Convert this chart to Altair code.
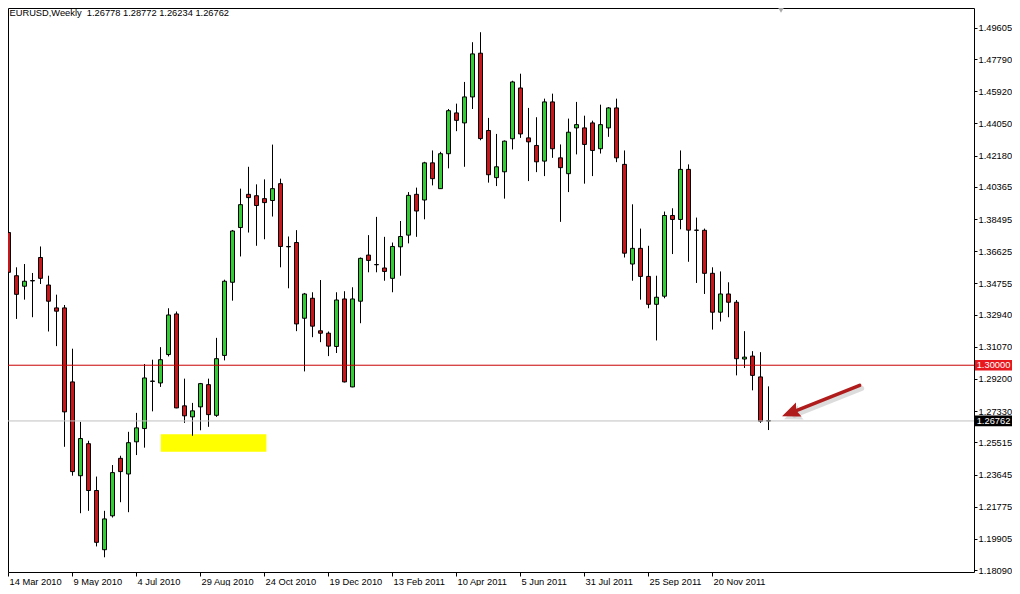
import json
import altair as alt
import pandas as pd

# ---------------- data ----------------
date_labels = ["14 Mar 2010", "9 May 2010", "4 Jul 2010", "29 Aug 2010", "24 Oct 2010",
               "19 Dec 2010", "13 Feb 2011", "10 Apr 2011", "5 Jun 2011", "31 Jul 2011",
               "25 Sep 2011", "20 Nov 2011"]
label_step = 8  # one label every 8 weekly bars

price_ticks = [1.49605, 1.47790, 1.45920, 1.44050, 1.42180, 1.40365, 1.38495, 1.36625,
               1.34755, 1.32940, 1.31070, 1.29200, 1.27330, 1.25515, 1.23645, 1.21775,
               1.19905, 1.18090]

opens = [1.3771, 1.3520, 1.3459, 1.3492, 1.3626, 1.3466, 1.3333, 1.3333, 1.2903, 1.2358,
         1.2544, 1.2272, 1.1928, 1.2125, 1.2459, 1.2368, 1.2555, 1.2632, 1.2906, 1.2897,
         1.3062, 1.3298, 1.2764, 1.2700, 1.2758, 1.2887, 1.2709, 1.3057, 1.3482, 1.3800,
         1.3993, 1.3985, 1.3968, 1.3957, 1.4055, 1.3690, 1.3713, 1.3273, 1.3389, 1.3200,
         1.3186, 1.3109, 1.3385, 1.2874, 1.3372, 1.3640, 1.3585, 1.3565, 1.3505, 1.3688,
         1.3756, 1.3993, 1.3960, 1.4176, 1.4026, 1.4229, 1.4466, 1.4408, 1.4559, 1.4813,
         1.4364, 1.4090, 1.4124, 1.4316, 1.4611, 1.4321, 1.4277, 1.4186, 1.4530, 1.4205,
         1.4113, 1.4379, 1.4379, 1.4408, 1.4258, 1.4379, 1.4495, 1.4167, 1.3588, 1.3679,
         1.3516, 1.3354, 1.3401, 1.3870, 1.3847, 1.4138, 1.3785, 1.3784, 1.3534, 1.3308,
         1.3414, 1.3366, 1.3036, 1.3053, 1.2932, 1.26778]
highs = [1.3819, 1.3569, 1.3588, 1.3536, 1.3690, 1.3520, 1.3410, 1.3350, 1.3096, 1.2671,
         1.2561, 1.2353, 1.2154, 1.2420, 1.2474, 1.2613, 1.2723, 1.3007, 1.3032, 1.3105,
         1.3331, 1.3312, 1.2922, 1.2781, 1.2897, 1.2922, 1.3159, 1.3497, 1.3786, 1.4026,
         1.4153, 1.4051, 1.4080, 1.4282, 1.4084, 1.3748, 1.3785, 1.3420, 1.3424, 1.3495,
         1.3196, 1.3424, 1.3430, 1.3453, 1.3626, 1.3756, 1.3862, 1.3746, 1.3713, 1.3838,
         1.4006, 1.4032, 1.4182, 1.4248, 1.4240, 1.4489, 1.4520, 1.4646, 1.4877, 1.4935,
         1.4437, 1.4344, 1.4306, 1.4653, 1.4694, 1.4495, 1.4441, 1.4549, 1.4578, 1.4283,
         1.4433, 1.4530, 1.4450, 1.4421, 1.4514, 1.4500, 1.4549, 1.4248, 1.3935, 1.3794,
         1.3694, 1.3520, 1.3893, 1.3912, 1.4248, 1.4167, 1.3858, 1.3794, 1.3569, 1.3545,
         1.3482, 1.3379, 1.3198, 1.3082, 1.3076, 1.28772]
lows = [1.3489, 1.3269, 1.3381, 1.3279, 1.3472, 1.3196, 1.3111, 1.2526, 1.2358, 1.2140,
        1.2154, 1.1947, 1.1884, 1.2115, 1.2204, 1.2146, 1.2478, 1.2521, 1.2732, 1.2874,
        1.3051, 1.2750, 1.2665, 1.2590, 1.2622, 1.2642, 1.2700, 1.3028, 1.3375, 1.3632,
        1.3771, 1.3694, 1.3732, 1.3864, 1.3569, 1.3447, 1.3198, 1.2964, 1.3163, 1.3134,
        1.3053, 1.3071, 1.2900, 1.2872, 1.3244, 1.3540, 1.3540, 1.3491, 1.3424, 1.3520,
        1.3708, 1.3746, 1.3848, 1.4045, 1.4024, 1.4144, 1.4360, 1.4153, 1.4489, 1.4307,
        1.4061, 1.4041, 1.3968, 1.4254, 1.4321, 1.4070, 1.4122, 1.4099, 1.4205, 1.3833,
        1.4006, 1.4225, 1.4055, 1.4099, 1.4230, 1.4327, 1.4180, 1.3626, 1.3491, 1.3381,
        1.3331, 1.3144, 1.3389, 1.3646, 1.3790, 1.3601, 1.3478, 1.3414, 1.3207, 1.3254,
        1.3279, 1.2941, 1.2984, 1.2854, 1.2665, 1.26234]
closes = [1.3540, 1.3412, 1.3488, 1.3490, 1.3505, 1.3372, 1.3314, 1.2729, 1.2382, 1.2574,
          1.2272, 1.1971, 1.2107, 1.2376, 1.2382, 1.2550, 1.2636, 1.2926, 1.2908, 1.3032,
          1.3292, 1.2752, 1.2706, 1.2735, 1.2893, 1.2713, 1.3038, 1.3488, 1.3780, 1.3933,
          1.3974, 1.3928, 1.3945, 1.4026, 1.3690, 1.3688, 1.3240, 1.3414, 1.3227, 1.3186,
          1.3111, 1.3379, 1.2903, 1.3385, 1.3621, 1.3609, 1.3584, 1.3545, 1.3690, 1.3748,
          1.3987, 1.3896, 1.4176, 1.4084, 1.4229, 1.4479, 1.4423, 1.4559, 1.4809, 1.4317,
          1.4107, 1.4153, 1.4302, 1.4646, 1.4344, 1.4298, 1.4182, 1.4530, 1.4258, 1.4148,
          1.4354, 1.4398, 1.4283, 1.4248, 1.4398, 1.4495, 1.4205, 1.3651, 1.3679, 1.3516,
          1.3354, 1.3395, 1.3870, 1.3847, 1.4138, 1.3785, 1.3784, 1.3534, 1.3308, 1.3414,
          1.3366, 1.3038, 1.3047, 1.2941, 1.2675, 1.26762]

level_prices = [1.30000, 1.26762]          # red horizontal level, bid line
zone_weeks = [19.1, 32.3]                  # yellow support zone
zone_prices = [1.2497, 1.2599]
arrow_tail = [106.46, 1.2883]
arrow_head = [98.06, 1.27278]
header_text = "EURUSD,Weekly\u00a0 1.26778 1.28772 1.26234 1.26762"

# ---------------- styling ----------------
FONT = "Liberation Sans"
FS = 9.3
GREEN = "#32cd32"
RED = "#c8161b"
W, H = 966, 564
PAD_R, PAD_B = 38, 14
X0 = 0.0

df = pd.DataFrame({"i": list(range(len(opens))), "open": opens, "high": highs,
                   "low": lows, "close": closes})

x_scale = alt.Scale(domain=[X0, X0 + W / 8], nice=False, zero=False, padding=0)
y_scale = alt.Scale(domain=[1.17985, 1.50757], nice=False, zero=False, padding=0)

label_expr = json.dumps(date_labels) + "[round(datum.value / %d)]" % label_step
x_axis = alt.Axis(values=[k * label_step for k in range(len(date_labels))],
                  labelExpr=label_expr, labelAlign="left", labelOffset=1,
                  labelFlush=False, labelOverlap=False, tickSize=4, tickColor="black",
                  domain=False, grid=False, labelFont=FONT, labelFontSize=FS,
                  labelColor="black", labelPadding=1, labelBaseline="top")
y_axis = alt.Axis(orient="right", values=price_ticks, format=".5f", tickSize=3,
                  tickColor="black", domain=False, grid=False, labelFont=FONT,
                  labelFontSize=FS, labelColor="black", labelPadding=1,
                  labelOverlap=False, labelFlush=False, labelBaseline="middle")


def X(field):
    return alt.X(field, scale=x_scale, axis=x_axis, title=None)


def Y(field):
    return alt.Y(field, scale=y_scale, axis=y_axis, title=None)


# yellow zone
zone = alt.Chart(pd.DataFrame({"x1": [zone_weeks[0]], "x2": [zone_weeks[1]],
                               "y1": [zone_prices[0]], "y2": [zone_prices[1]]})).mark_rect(
    color="#ffff00").encode(x=X("x1:Q"), x2="x2:Q", y=Y("y1:Q"), y2="y2:Q")

wicks = alt.Chart(df).mark_rule(color="black", strokeWidth=1, clip=True, xOffset=0.5).encode(
    x=X("i:Q"), y=Y("low:Q"), y2="high:Q")

bodies = alt.Chart(df).mark_bar(size=4, stroke="black", strokeWidth=1, clip=True,
                                xOffset=0.5).encode(
    x=X("i:Q"), y=Y("open:Q"), y2="close:Q",
    color=alt.condition("datum.close >= datum.open", alt.value(GREEN), alt.value(RED)))

lines_df = pd.DataFrame({"p": level_prices, "c": ["#c80000", "#c0c0c0"]})
lines = alt.Chart(lines_df).mark_rule(strokeWidth=1).encode(
    y=Y("p:Q"), color=alt.Color("c:N", scale=None))

boxes_df = pd.DataFrame({"p": level_prices, "bg": ["#e8191e", "#000000"]})
box_rect = alt.Chart(boxes_df).transform_calculate(
    top="datum.p + 0.0031", bot="datum.p - 0.0031").mark_rect().encode(
    x=alt.value(W + 1), x2=alt.value(W + PAD_R),
    y=Y("top:Q"), y2="bot:Q",
    color=alt.Color("bg:N", scale=None))
box_text = alt.Chart(boxes_df).mark_text(color="white", align="center", baseline="middle",
                                         font=FONT, fontSize=FS).encode(
    x=alt.value(W + 1 + (PAD_R - 1) / 2), y=Y("p:Q"),
    text=alt.Text("p:Q", format=".5f"))

arrow_df = pd.DataFrame({"x": [arrow_tail[0]], "y": [arrow_tail[1]],
                         "hx": [arrow_head[0]], "hy": [arrow_head[1]]})
HEAD = "M-1,0L0.6,-0.67L0.35,0L0.6,0.67Z"


def arrow_layers(color, opacity, dx, dy, sw):
    shaft = alt.Chart(arrow_df).mark_rule(color=color, opacity=opacity, strokeWidth=sw,
                                          strokeCap="round", xOffset=dx, yOffset=dy,
                                          x2Offset=dx, y2Offset=dy).encode(
        x=X("x:Q"), y=Y("y:Q"), x2="hx:Q", y2="hy:Q")
    head = alt.Chart(arrow_df).mark_point(shape=HEAD, filled=True, color=color,
                                          opacity=opacity, size=506, angle=338.25,
                                          strokeWidth=0, xOffset=dx, yOffset=dy).encode(
        x=X("hx:Q"), y=Y("hy:Q"))
    return [shaft, head]


arrow = arrow_layers("#9a9a9a", 0.35, 2, 3, 5) + arrow_layers("#b01c1c", 1, 0, 0, 3.5)

header = alt.Chart(pd.DataFrame({"t": [header_text]})).mark_text(
    align="left", baseline="top", font=FONT, fontSize=FS, color="black").encode(
    x=alt.value(1.5), y=alt.value(0.5), text="t:N")

marker = alt.Chart(pd.DataFrame({"k": [0]})).mark_point(
    shape="triangle-down", filled=True, color="#a8a8a8", size=40, opacity=1).encode(
    x=alt.value(773), y=alt.value(2))

chart = alt.layer(zone, wicks, bodies, lines, box_rect, box_text, *arrow, header, marker).properties(
    width=W, height=H, background="white",
    autosize=alt.AutoSizeParams(type="none"),
    padding={"left": 0, "top": 0, "right": PAD_R, "bottom": PAD_B},
).configure_view(stroke="black", strokeWidth=1)

chart.save("out.html", embed_options={"renderer": "svg", "actions": False})
